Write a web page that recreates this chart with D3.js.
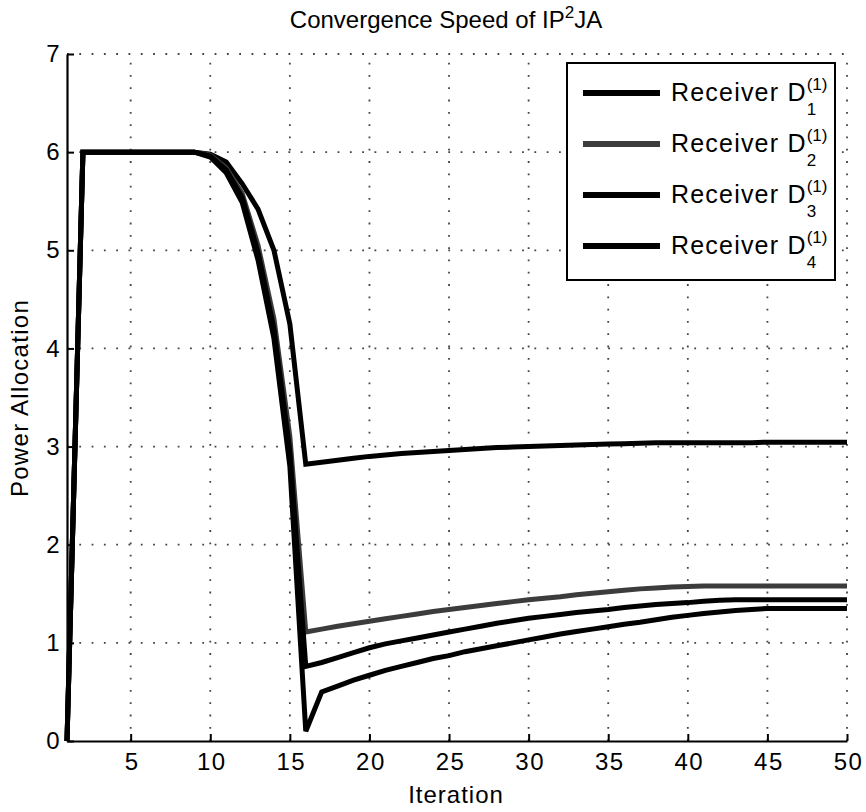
<!DOCTYPE html>
<html lang="en">
<head>
<meta charset="UTF-8">
<title>Convergence Speed</title>
<style>
  body { margin: 0; background: #fff; }
  svg text { font-family: "Liberation Sans", Arial, Helvetica, sans-serif; fill: #000; }
</style>
</head>
<body>
<script src="https://d3js.org/d3.v7.min.js"></script>
<script>
const iterations = d3.range(1, 51);
const d1 = [0, 6, 6, 6, 6, 6, 6, 6, 6, 5.98, 5.9, 5.68, 5.42, 5.0, 4.25, 2.82,
  2.84, 2.86, 2.88, 2.9, 2.915, 2.93, 2.94, 2.95, 2.96, 2.97, 2.98, 2.99, 2.995, 3.0, 3.005,
  3.01, 3.015, 3.02, 3.025, 3.03, 3.035, 3.04,
  3.04, 3.04, 3.04, 3.04, 3.04, 3.04, 3.045, 3.045, 3.045, 3.045, 3.045, 3.045];
const d2 = [0, 6, 6, 6, 6, 6, 6, 6, 6, 5.97, 5.84, 5.58, 5.05, 4.3, 3.1, 1.11,
  1.14, 1.17, 1.195, 1.22, 1.245, 1.27, 1.295, 1.32, 1.34, 1.36, 1.38, 1.40, 1.42, 1.44,
  1.455, 1.47, 1.49, 1.505, 1.52, 1.535, 1.55, 1.56, 1.57, 1.575,
  1.58, 1.58, 1.58, 1.58, 1.58, 1.58, 1.58, 1.58, 1.58, 1.58];
const d3s = [0, 6, 6, 6, 6, 6, 6, 6, 6, 5.96, 5.82, 5.54, 4.98, 4.2, 2.95, 0.76,
  0.80, 0.85, 0.90, 0.95, 0.99, 1.02, 1.05, 1.08, 1.11, 1.14, 1.17, 1.20, 1.225, 1.25,
  1.27, 1.29, 1.31, 1.325, 1.34, 1.36, 1.375, 1.39, 1.40, 1.41, 1.425, 1.435,
  1.44, 1.44, 1.44, 1.44, 1.44, 1.44, 1.44, 1.44];
const d4 = [0, 6, 6, 6, 6, 6, 6, 6, 6, 5.95, 5.79, 5.49, 4.9, 4.1, 2.8, 0.1,
  0.50, 0.56, 0.62, 0.67, 0.72, 0.76, 0.80, 0.84, 0.87, 0.91, 0.94, 0.97, 1.00, 1.03,
  1.06, 1.09, 1.115, 1.14, 1.165, 1.19, 1.21, 1.235, 1.26, 1.28, 1.30, 1.315, 1.33, 1.34, 1.35,
  1.35, 1.35, 1.35, 1.35, 1.35];
const seriesValues = [d1, d2, d3s, d4];
const seriesSubs = ["1", "2", "3", "4"];
const seriesColors = ["#000", "#3c3c3c", "#000", "#000"];
const xTicks = [5, 10, 15, 20, 25, 30, 35, 40, 45, 50];
const yTicks = [0, 1, 2, 3, 4, 5, 6, 7];

const width = 866, height = 812;
const plotLeft = 67, plotRight = 847, plotTop = 54, plotBottom = 741;

const svg = d3.select("body").append("svg")
  .attr("width", width).attr("height", height);

const x = d3.scaleLinear().domain([1, 50]).range([plotLeft, plotRight]);
const y = d3.scaleLinear().domain([0, 7]).range([plotBottom, plotTop]);

// dotted grid
const grid = svg.append("g").attr("stroke", "#444").attr("stroke-width", 1.8)
  .attr("stroke-dasharray", "1.8 10.5");
grid.selectAll(".gx").data(xTicks).enter().append("line")
  .attr("x1", d => x(d)).attr("x2", d => x(d))
  .attr("y1", plotBottom).attr("y2", plotTop);
grid.selectAll(".gy").data(yTicks.slice(1)).enter().append("line")
  .attr("x1", plotLeft).attr("x2", plotRight)
  .attr("y1", d => y(d)).attr("y2", d => y(d));

// axes with inward ticks
const xAxis = svg.append("g").attr("transform", `translate(0,${plotBottom})`)
  .call(d3.axisBottom(x).tickValues(xTicks).tickFormat(d3.format("d"))
    .tickSizeInner(-7).tickSizeOuter(0).tickPadding(12));
const yAxis = svg.append("g").attr("transform", `translate(${plotLeft},0)`)
  .call(d3.axisLeft(y).tickValues(yTicks).tickFormat(d3.format("d"))
    .tickSizeInner(-7).tickSizeOuter(0).tickPadding(6));
[xAxis, yAxis].forEach(a => {
  a.select(".domain").attr("stroke", "#000").attr("stroke-width", 2.2);
  a.selectAll(".tick line").attr("stroke", "#000").attr("stroke-width", 2);
  a.selectAll(".tick text").attr("font-size", 24).attr("font-family", null)
    .attr("fill", "#000").attr("letter-spacing", 1.5);
});
xAxis.selectAll(".tick text").attr("dy", "0.71em").attr("dx", 1);

// lines
const line = d3.line().x((d, i) => x(iterations[i])).y(d => y(d));
svg.append("g").selectAll("path").data(seriesValues).enter().append("path")
  .attr("d", line)
  .attr("fill", "none")
  .attr("stroke", (d, i) => seriesColors[i])
  .attr("stroke-width", 5)
  .attr("stroke-linejoin", "miter");

// title and axis labels
const title = svg.append("text").attr("x", 446).attr("y", 28)
  .attr("text-anchor", "middle").attr("font-size", 24);
title.append("tspan").text("Convergence Speed of IP");
title.append("tspan").attr("dy", -10).attr("font-size", 17).text("2");
title.append("tspan").attr("dy", 10).text("JA");

svg.append("text").attr("x", 456).attr("y", 803)
  .attr("text-anchor", "middle").attr("font-size", 24).attr("letter-spacing", 1)
  .text("Iteration");
svg.append("text").attr("transform", "translate(28,398) rotate(-90)")
  .attr("text-anchor", "middle").attr("font-size", 24).attr("letter-spacing", 1.3)
  .text("Power Allocation");

// legend
const legend = svg.append("g");
legend.append("rect").attr("x", 567).attr("y", 63).attr("width", 268).attr("height", 217)
  .attr("fill", "#fff").attr("stroke", "#000").attr("stroke-width", 2);
const rows = legend.selectAll(".row").data(seriesSubs).enter().append("g")
  .attr("transform", (d, i) => `translate(0,${93 + i * 51})`);
rows.append("line").attr("x1", 583).attr("x2", 660).attr("y1", 0).attr("y2", 0)
  .attr("stroke", (d, i) => seriesColors[i]).attr("stroke-width", 6);
rows.each(function (d) {
  const row = d3.select(this);
  const main = row.append("text").attr("x", 671).attr("y", 8)
    .attr("font-size", 25).attr("letter-spacing", 1.2).text("Receiver D");
  const end = 671 + main.node().getComputedTextLength();
  row.append("text").attr("x", end).attr("y", -3).attr("font-size", 17).text("(1)");
  row.append("text").attr("x", end).attr("y", 22).attr("font-size", 17).text(d);
});
</script>
</body>
</html>
